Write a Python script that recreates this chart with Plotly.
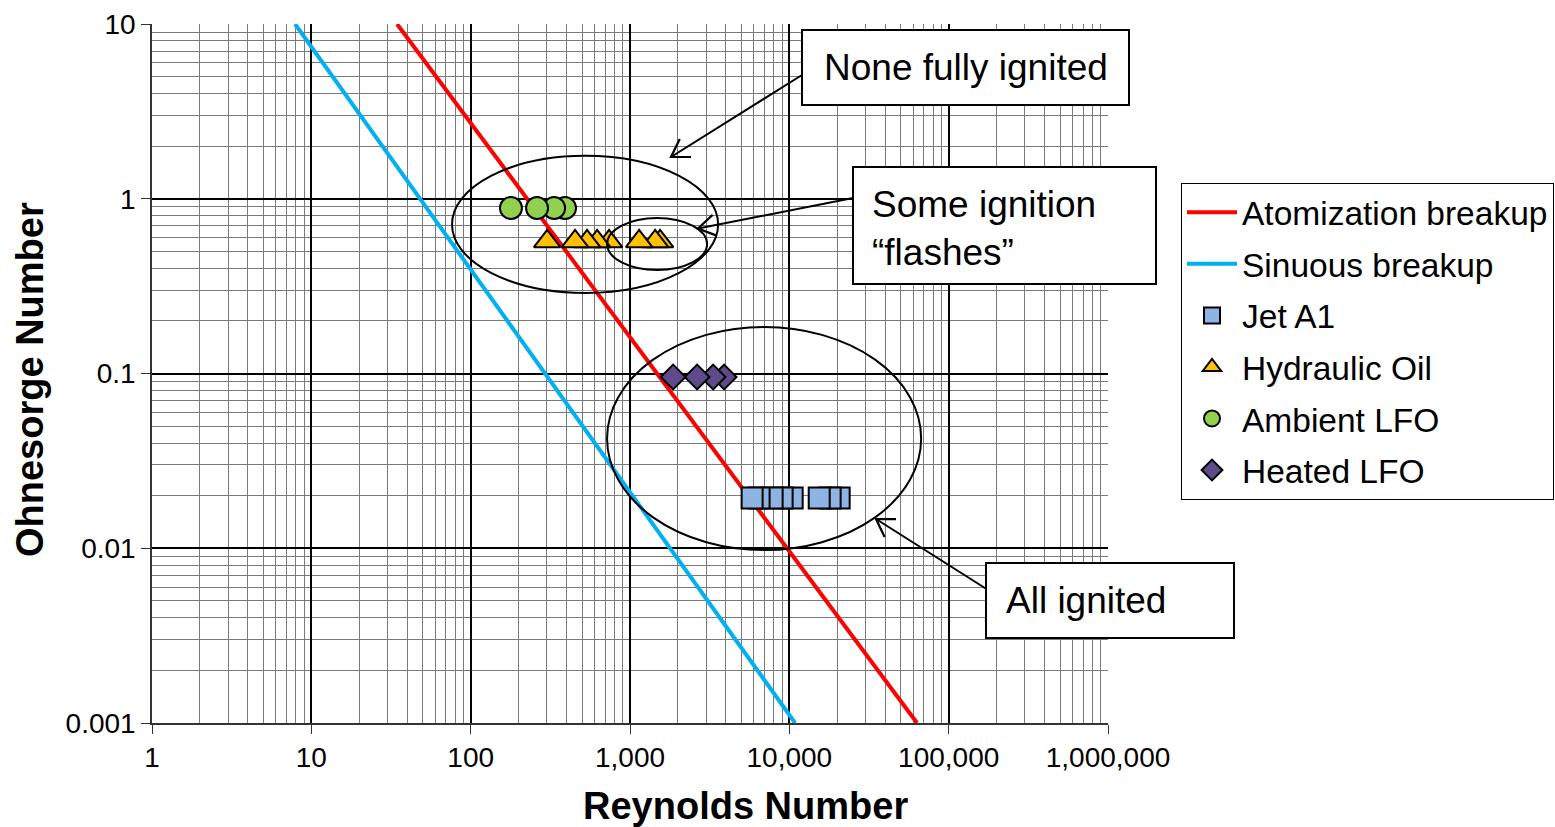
import math
import plotly.graph_objects as go

# ---------------- data ----------------
atom_re = [34.5, 63300]
atom_oh = [10, 0.001]
sin_re = [7.9, 10870]
sin_oh = [10, 0.001]

jet_re = [20550, 18030, 15400, 10420, 9010, 7800, 6460, 5840]
jet_oh = [0.0194] * 8
hyd_re = [1545, 1438, 1141, 739, 622, 538, 452, 302]
hyd_oh = [0.57] * 8
amb_re = [391, 334, 261, 179]
amb_oh = [0.885] * 4
heat_re = [3897, 3325, 2637, 1865]
heat_oh = [0.0955] * 4

x_tickvals = [1, 10, 100, 1000, 10000, 100000, 1000000]
x_ticktext = ["1", "10", "100", "1,000", "10,000", "100,000", "1,000,000"]
y_tickvals = [0.001, 0.01, 0.1, 1, 10]
y_ticktext = ["0.001", "0.01", "0.1", "1", "10"]

# ---------------- layout constants ----------------
W, H = 1555, 827
L, R, T, B = 152, 1108, 24, 723
FONT = "Liberation Sans, Arial, sans-serif"


def px_x(p):
    return (p - L) / (R - L)


def px_y(p):
    return (B - p) / (B - T)


minor_x = [k * 10 ** n for n in range(0, 6) for k in range(2, 10)]
minor_y = [k * 10.0 ** n for n in range(-3, 1) for k in range(2, 10)]

fig = go.Figure()
fig.add_trace(go.Scatter(x=atom_re, y=atom_oh, mode="lines", name="Atomization breakup",
                         line=dict(color="#FF0000", width=4), legendgroup="a"))
fig.add_trace(go.Scatter(x=sin_re, y=sin_oh, mode="lines", name="Sinuous breakup",
                         line=dict(color="#00B0F0", width=4), legendgroup="b"))
mk_line = dict(color="#000000", width=2)
fig.add_trace(go.Scatter(x=jet_re, y=jet_oh, mode="markers", name="Jet A1", legendgroup="c",
                         marker=dict(symbol="square", size=21, color="#8EB4E3", line=mk_line)))
fig.add_trace(go.Scatter(x=hyd_re, y=hyd_oh, mode="markers", name="Hydraulic Oil", legendgroup="d",
                         marker=dict(symbol="triangle-up", size=23, color="#FFC000", line=mk_line)))
fig.add_trace(go.Scatter(x=amb_re, y=amb_oh, mode="markers", name="Ambient LFO", legendgroup="e",
                         marker=dict(symbol="circle", size=22, color="#92D050", line=mk_line)))
fig.add_trace(go.Scatter(x=heat_re, y=heat_oh, mode="markers", name="Heated LFO", legendgroup="f",
                         marker=dict(symbol="diamond", size=19, color="#5F4B8B", line=mk_line)))

shapes = []
# ellipses (data coordinates)
for (x0, x1, y0, y1) in [(76.4, 3573, 0.289, 1.76), (718, 3048, 0.391, 0.776), (718, 67200, 0.00977, 0.1845)]:
    shapes.append(dict(type="circle", xref="x", yref="y", x0=x0, x1=x1, y0=y0, y1=y1,
                       line=dict(color="black", width=2), layer="above"))
# text boxes (paper coordinates from pixel positions)
for (a, b, c, d) in [(802, 1129, 30, 105), (853, 1156, 167, 284), (986, 1234, 563, 638)]:
    shapes.append(dict(type="rect", xref="paper", yref="paper", x0=px_x(a), x1=px_x(b),
                       y0=px_y(d), y1=px_y(c), fillcolor="white",
                       line=dict(color="black", width=2), layer="above"))
# arrows: shaft + open V head (pixel positions -> paper)
for (hx, hy, tx, ty) in [(671, 157, 802, 75), (698, 228.5, 853, 198), (876, 519, 986.5, 589)]:
    shapes.append(dict(type="line", xref="paper", yref="paper", x0=px_x(tx), y0=px_y(ty),
                       x1=px_x(hx), y1=px_y(hy), line=dict(color="black", width=2), layer="above"))
    dx, dy = tx - hx, ty - hy
    n = math.hypot(dx, dy)
    ux, uy = dx / n, dy / n
    arms = []
    for ang in (math.radians(32), -math.radians(32)):
        c, s = math.cos(ang), math.sin(ang)
        arms.append((hx + 20 * (ux * c - uy * s), hy + 20 * (ux * s + uy * c)))
    path = "M{:.5f},{:.5f} L{:.5f},{:.5f} L{:.5f},{:.5f}".format(
        px_x(arms[0][0]), px_y(arms[0][1]), px_x(hx), px_y(hy), px_x(arms[1][0]), px_y(arms[1][1]))
    shapes.append(dict(type="path", xref="paper", yref="paper", path=path,
                       line=dict(color="black", width=2.2), layer="above"))

annotations = []
tf = dict(family=FONT, size=37, color="black")
annotations.append(dict(xref="paper", yref="paper", x=px_x(965.5), y=px_y(67.5), xanchor="center",
                        yanchor="middle", text="None fully ignited", showarrow=False, font=tf))
annotations.append(dict(xref="paper", yref="paper", x=px_x(870), y=px_y(229), xanchor="left",
                        yanchor="middle", text="Some ignition<br>“flashes”", align="left",
                        showarrow=False, font=tf))
annotations.append(dict(xref="paper", yref="paper", x=px_x(1004), y=px_y(600.5), xanchor="left",
                        yanchor="middle", text="All ignited", showarrow=False, font=tf))
# axis titles
annotations.append(dict(xref="paper", yref="paper", x=px_x(745), y=px_y(806), xanchor="center",
                        yanchor="middle", text="<b>Reynolds Number</b>", showarrow=False,
                        font=dict(family=FONT, size=38, color="black")))
annotations.append(dict(xref="paper", yref="paper", x=px_x(30), y=px_y(380), xanchor="center",
                        yanchor="middle", text="<b>Ohnesorge Number</b>", showarrow=False, textangle=-90,
                        font=dict(family=FONT, size=38, color="black")))

fig.update_layout(
    width=W, height=H,
    margin=dict(l=L, r=W - R, t=T, b=H - B, pad=0, autoexpand=False),
    paper_bgcolor="white", plot_bgcolor="white",
    font=dict(family=FONT, color="black"),
    shapes=shapes, annotations=annotations,
    legend=dict(x=px_x(1181), y=px_y(183), xanchor="left", yanchor="top",
                bordercolor="black", borderwidth=1, bgcolor="white",
                font=dict(family=FONT, size=33.5, color="black"),
                tracegroupgap=5, itemwidth=50),
    showlegend=True,
)
fig.update_xaxes(type="log", range=[0, 6], tickmode="array", tickvals=x_tickvals, ticktext=x_ticktext,
                 tickfont=dict(size=28, family=FONT, color="black"),
                 showgrid=True, gridcolor="#000000", gridwidth=1.5,
                 ticks="outside", ticklen=9, tickcolor="#333", showline=True, linecolor="#333", linewidth=1.5,
                 minor=dict(tickmode="array", tickvals=minor_x, showgrid=True, gridcolor="#7a7a7a",
                            gridwidth=1, ticks=""),
                 zeroline=False)
fig.update_yaxes(type="log", range=[-3, 1], tickmode="array", tickvals=y_tickvals, ticktext=y_ticktext,
                 tickfont=dict(size=28, family=FONT, color="black"),
                 showgrid=True, gridcolor="#000000", gridwidth=1.5,
                 ticks="outside", ticklen=9, tickcolor="#333", showline=True, linecolor="#333", linewidth=1.5,
                 minor=dict(tickmode="array", tickvals=minor_y, showgrid=True, gridcolor="#7a7a7a",
                            gridwidth=1, ticks=""),
                 zeroline=False)

fig.write_html("out.html")
